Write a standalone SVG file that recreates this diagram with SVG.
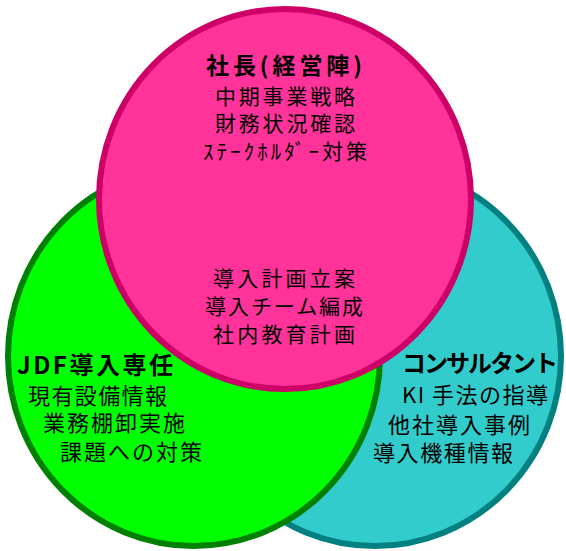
<svg xmlns="http://www.w3.org/2000/svg" width="566" height="551" viewBox="0 0 566 551">
  <style>
    text { font-family: "Noto Sans CJK JP", "Noto Sans", sans-serif; fill: #000; }
    .title { font-size: 24px; font-weight: bold; }
    .ptitle { font-size: 23px; font-weight: bold; }
    .body { font-size: 22px; }
    .pbody { font-size: 21px; }
    .c { stroke-width: 6; }
  </style>
  <rect x="0" y="0" width="566" height="551" fill="#ffffff"/>
  <g id="node-consultant">
    <ellipse class="c" cx="375" cy="356" rx="186" ry="190" fill="#33CCCC" stroke="#008080"/>
    <text class="title" x="402" y="372" textLength="156" lengthAdjust="spacing">コンサルタント</text>
    <text class="body" x="402" y="403" textLength="146" lengthAdjust="spacing">KI 手法の指導</text>
    <text class="body" x="388" y="433" textLength="142" lengthAdjust="spacing">他社導入事例</text>
    <text class="body" x="373" y="461" textLength="140" lengthAdjust="spacing">導入機種情報</text>
  </g>
  <g id="node-jdf">
    <ellipse class="c" cx="194" cy="356" rx="186" ry="190" fill="#00FF00" stroke="#008000"/>
    <text class="title" x="17" y="374" textLength="156" lengthAdjust="spacing">JDF導入専任</text>
    <text class="body" x="28" y="404" textLength="139" lengthAdjust="spacing">現有設備情報</text>
    <text class="body" x="43" y="431" textLength="142" lengthAdjust="spacing">業務棚卸実施</text>
    <text class="body" x="60" y="460" textLength="142" lengthAdjust="spacing">課題への対策</text>
  </g>
  <g id="node-president">
    <ellipse class="c" cx="285" cy="199" rx="186" ry="190" fill="#FF3399" stroke="#CC0066"/>
    <text class="ptitle" x="206" y="74" textLength="156" lengthAdjust="spacing">社長(経営陣)</text>
    <text class="pbody" x="215" y="104" textLength="140" lengthAdjust="spacing">中期事業戦略</text>
    <text class="pbody" x="215" y="131" textLength="140" lengthAdjust="spacing">財務状況確認</text>
    <text class="pbody" x="203" y="159" textLength="164" lengthAdjust="spacing">ｽﾃｰｸﾎﾙﾀﾞｰ対策</text>
  </g>
  <g id="node-shared">
    <text class="pbody" x="213" y="286" textLength="142" lengthAdjust="spacing">導入計画立案</text>
    <text class="pbody" x="205" y="314" textLength="158" lengthAdjust="spacing">導入チーム編成</text>
    <text class="pbody" x="213" y="342" textLength="142" lengthAdjust="spacing">社内教育計画</text>
  </g>
  <g id="connectors"/>
</svg>
